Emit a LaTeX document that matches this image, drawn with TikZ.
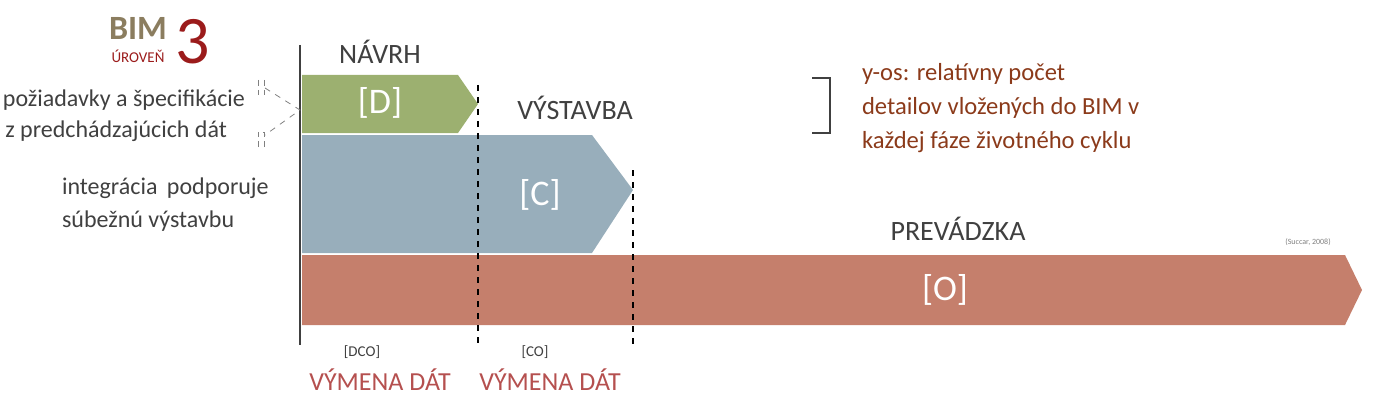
\documentclass[tikz,border=0pt]{standalone}
\usepackage{fontspec}
\setmainfont{Carlito}
\usetikzlibrary{positioning}
\definecolor{greenD}{HTML}{9CB070}
\definecolor{blueC}{HTML}{98AEBB}
\definecolor{redO}{HTML}{C57F6C}
\definecolor{bimbrown}{HTML}{8B7D5F}
\definecolor{darkred}{HTML}{9B1B1B}
\definecolor{notered}{HTML}{8B3A1A}
\definecolor{swapred}{HTML}{B5504F}
\definecolor{textgray}{HTML}{404040}
\begin{document}
\begin{tikzpicture}[%
x=0.5pt, y=-0.5pt,
phase/.style={font=\fontsize{14}{16}\selectfont, text=textgray},
inbox/.style={font=\fontsize{18}{20}\selectfont, text=white},
lefttext/.style={font=\fontsize{12}{14}\selectfont, text=textgray, align=left},
swap/.style={font=\fontsize{13}{15}\selectfont, text=swapred},
]
\useasboundingbox (0,0) rectangle (1380,401);

% phases
\fill[redO] (302,255) -- (1345,255) -- (1362,290) -- (1345,325) -- (302,325) -- cycle;
\fill[blueC] (302,135) -- (592,135) -- (633,190) -- (592,253) -- (302,253) -- cycle;
\fill[greenD] (302,75) -- (458,75) -- (478,104) -- (458,133) -- (302,133) -- cycle;

% axis and borders
\coordinate (axtop) at (300,45);
\coordinate (axbot) at (300,345);
\draw[thick, textgray] (axtop) -- (axbot);
\coordinate (d1top) at (478,85);
\coordinate (d1bot) at (478,345);
\coordinate (d2top) at (633,170);
\coordinate (d2bot) at (633,345);
\draw[thick, dashed, black] (d1top) -- (d1bot);
\draw[thick, dashed, black] (d2top) -- (d2bot);

% labels
\node[phase] (navrh) at (380,52) {NÁVRH};
\node[phase] (vystavba) at (575,108) {VÝSTAVBA};
\node[phase] (prevadzka) at (958,229) {PREVÁDZKA};
\node[inbox] (D) at (380,103) {[D]};
\node[inbox] (C) at (540,195) {[C]};
\node[inbox] (O) at (945,290) {[O]};
\node[font=\fontsize{4}{5}\selectfont, text=gray] (succar) at (1308,242) {(Succar, 2008)};

% title
\node[font=\bfseries\fontsize{17}{18}\selectfont, text=bimbrown] (bim) at (138,28) {BIM};
\node[font=\fontsize{7.5}{8}\selectfont, text=darkred] (uroven) at (138,56) {ÚROVEŇ};
\node[font=\fontsize{34}{36}\selectfont, text=darkred] (three) at (193,42) {3};

% left notes
\node[lefttext, anchor=east] (req1) at (252,100) {požiadavky a špecifikácie};
\node[lefttext, anchor=east] (req2) at (234,131) {z predchádzajúcich dát};
\node[lefttext, anchor=west] (int1) at (55,188) {integrácia\, podporuje};
\node[lefttext, anchor=west] (int2) at (55,221) {súbežnú výstavbu};
\coordinate (tip) at (300,110);
\coordinate (up) at (265,88);
\coordinate (dn) at (265,135);
\draw[dashed, gray] (up) -- (tip) -- (dn);
\draw[densely dashed, gray] (258,80) -- (258,95) (264,80) -- (264,95);
\draw[densely dashed, gray] (258,147) -- (258,132) -- (264,132) -- (264,147);

% note on the right
\draw[semithick, textgray] (812,78) -- (830,78) -- (830,133) -- (812,133);
\node[font=\fontsize{12.3}{17}\selectfont, text=notered, align=left, anchor=north west] (note) at (855,56)
  {y-os: relatívny počet\\detailov vložených do BIM v\\každej fáze životného cyklu};

% exchanges
\node[font=\fontsize{7.5}{8}\selectfont, text=textgray] (dco) at (362,352) {[DCO]};
\node[font=\fontsize{7.5}{8}\selectfont, text=textgray] (co) at (535,352) {[CO]};
\node[swap] (ex1) at (380,380) {VÝMENA DÁT};
\node[swap] (ex2) at (550,380) {VÝMENA DÁT};
\end{tikzpicture}
\end{document}
